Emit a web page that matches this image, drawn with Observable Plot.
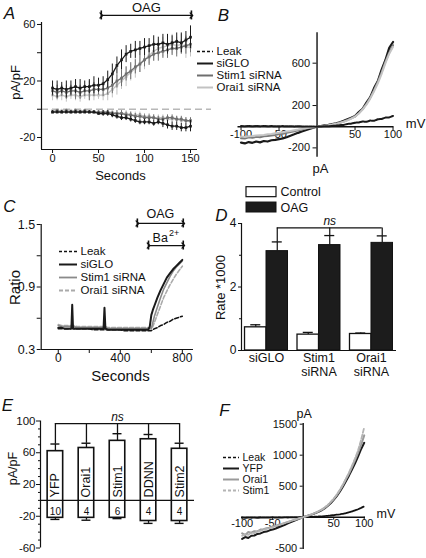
<!DOCTYPE html>
<html>
<head>
<meta charset="utf-8">
<script src="https://cdn.jsdelivr.net/npm/d3@7"></script>
<script src="https://cdn.jsdelivr.net/npm/@observablehq/plot@0.6"></script>
<style>
  html, body { margin: 0; padding: 0; background: #fff; }
  #fig { position: relative; width: 426px; height: 558px; overflow: hidden; background: #fff; }
  #fig svg { position: absolute; left: 0; top: 0; background: transparent !important; overflow: visible !important; max-width: none !important; }
</style>
</head>
<body>
<div id="fig"></div>
<script>
// ================= DATA =================
// Panel A: current density at +/-100 mV vs time (s)
const secA = [0,5,10,15,20,25,30,35,40,45,50,55,60,65,70,75,80,85,90,95,100,105,110,115,120,125,130,135,140,145,150];
const aSiGLOOut    = [15,14,15,14,15,16,15,16,16,17,17,18,21,25,31,35,39,41,42,43,44,45,46,46,47,46,47,48,47,49,51];
const aSiGLOOutErr = [5,6,4,6,5,5,6,4,5,6,5,5,6,7,6,7,6,5,6,5,6,5,6,5,6,7,5,6,7,6,8];
const aStimOut     = [13,12,13,12,13,13,12,13,13,14,14,14,15,17,20,22,25,27,30,32,35,37,39,40,41,42,43,43,44,45,46];
const aStimOutErr  = [4,5,4,5,4,6,5,4,7,5,4,5,5,6,5,6,5,6,5,6,5,6,5,6,5,6,5,6,5,6,6];
const aOraiOut     = [10,9,10,9,10,10,9,10,10,10,10,10,11,14,17,20,23,26,29,32,35,38,41,43,44,45,46,45,46,44,44];
const aOraiOutErr  = [4,3,4,4,3,4,4,3,4,4,3,4,5,6,7,6,7,6,7,6,7,6,7,6,7,6,7,6,7,8,7];
const aSiGLOIn     = [-2,-2,-2,-2,-2,-2,-2,-2,-2,-2,-3,-3,-3,-4,-5,-6,-6,-7,-8,-9,-9,-9,-10,-9,-10,-11,-12,-12,-13,-13,-12];
const aSiGLOInErr  = [1,1,1,1,1,1,1,1,1,1,1,2,2,2,2,2,2,2,2,2,2,2,2,2,3,3,3,3,3,3,4];
const aStimIn      = [-2,-1,-2,-1,-2,-1,-2,-1,-2,-2,-2,-2,-2,-3,-3,-3,-4,-4,-5,-5,-6,-6,-6,-7,-7,-6,-6,-7,-7,-8,-8];
const aOraiIn      = [-1,-2,-1,-2,-1,-2,-1,-2,-1,-2,-2,-2,-2,-2,-3,-3,-3,-4,-4,-4,-5,-5,-6,-6,-6,-7,-7,-7,-8,-8,-9];
const aInErr       = [1,1,1,1,1,1,1,1,1,1,1,1,1,1,2,2,2,2,2,2,2,2,2,2,2,2,2,2,2,2,2];
const oagA = [53, 151];
const legendA = ["Leak", "siGLO", "Stim1 siRNA", "Orai1 siRNA"];

// Panels B and F: I-V curves (mV)
const mV = [-100,-95,-90,-85,-80,-75,-70,-65,-60,-55,-50,-45,-40,-35,-30,-25,-20,-15,-10,-5,0,5,10,15,20,25,30,35,40,45,50,55,60,65,70,75,80,85,90,95,100];
const bLeak  = [6,5,7,4,6,5,7,5,6,4,5,6,4,5,3,4,3,2,2,1,0,2,4,4,8,9,15,17,26,29,38,40,49,46,58,56,70,73,86,88,102];
const bSiGLO = [-150,-158,-145,-152,-140,-148,-135,-140,-128,-125,-118,-110,-100,-85,-72,-58,-45,-33,-22,-10,0,6,12,18,25,32,42,55,70,85,100,138,170,228,280,365,432,540,630,745,800];
const bStim  = [-108,-112,-100,-104,-96,-99,-90,-88,-82,-78,-70,-66,-58,-50,-42,-34,-26,-18,-11,-5,0,5,10,15,21,28,37,49,63,80,98,128,168,215,275,345,425,515,615,700,770];
const bOrai  = [-92,-98,-90,-88,-84,-80,-78,-72,-68,-62,-58,-52,-46,-40,-33,-27,-20,-14,-8,-4,0,5,9,14,20,27,36,47,60,76,95,124,162,208,265,335,410,500,600,690,755];

const fLeak  = [-8,-10,-6,-9,-7,-10,-5,-8,-6,-9,-4,-7,-5,-6,-3,-5,-2,-4,-2,-1,0,3,5,6,9,11,14,18,22,27,33,40,46,55,64,78,92,110,128,150,175];
const fYFP   = [-350,-320,-335,-300,-295,-270,-262,-240,-232,-212,-200,-182,-162,-142,-122,-100,-80,-60,-40,-20,0,15,30,45,65,85,110,140,180,225,280,340,410,490,580,670,770,870,980,1100,1200];
const fOrai  = [-260,-290,-240,-250,-225,-230,-200,-195,-178,-170,-150,-140,-122,-108,-92,-76,-60,-44,-28,-14,0,16,32,50,70,92,118,150,190,238,290,355,430,515,610,700,810,920,1040,1170,1320];
const fStim  = [-300,-270,-285,-250,-255,-225,-220,-200,-190,-172,-162,-145,-130,-112,-96,-80,-62,-46,-30,-15,0,17,33,52,72,96,122,155,195,245,300,365,440,525,620,720,830,950,1080,1250,1450];
const legendF = ["Leak", "YFP", "Orai1", "Stim1"];

// Panel C: fura-2 ratio vs time (s)
const secC = [0,20,40,60,80, 85,90,95,100, 120,140,160,180,200, 220,240,260,280, 292,298,304, 320,340,360,380,400, 420,440,460,480,500, 520,540,560,580, 590,600,610,620, 640,660,680,700, 720,740,760,780,800];
const cSiGLO = [0.51,0.51,0.50,0.50,0.50, 0.51,0.73,0.51,0.50, 0.50,0.50,0.50,0.50,0.50, 0.50,0.50,0.50,0.50, 0.50,0.70,0.50, 0.49,0.49,0.49,0.49,0.49, 0.49,0.49,0.49,0.49,0.49, 0.49,0.49,0.49,0.49, 0.52,0.63,0.68,0.72, 0.80,0.87,0.93,0.99, 1.03,1.07,1.10,1.13,1.16];
const cStim  = [0.53,0.52,0.52,0.52,0.52, 0.52,0.52,0.52,0.52, 0.51,0.51,0.51,0.51,0.51, 0.51,0.51,0.51,0.51, 0.51,0.51,0.51, 0.50,0.50,0.50,0.50,0.50, 0.50,0.50,0.50,0.50,0.50, 0.50,0.50,0.50,0.50, 0.50,0.50,0.56,0.62, 0.71,0.80,0.88,0.94, 1.00,1.05,1.09,1.12,1.15];
const cOrai  = [0.54,0.53,0.53,0.53,0.53, 0.53,0.53,0.53,0.53, 0.52,0.52,0.52,0.52,0.52, 0.52,0.52,0.52,0.52, 0.52,0.52,0.52, 0.51,0.51,0.51,0.51,0.51, 0.51,0.51,0.51,0.51,0.51, 0.51,0.51,0.51,0.51, 0.51,0.50,0.52,0.56, 0.64,0.72,0.80,0.86, 0.92,0.97,1.02,1.06,1.10];
const cLeak  = [0.50,0.50,0.50,0.50,0.50, 0.50,0.50,0.50,0.50, 0.50,0.50,0.50,0.50,0.50, 0.49,0.49,0.49,0.49, 0.49,0.49,0.49, 0.49,0.49,0.49,0.49,0.49, 0.48,0.48,0.48,0.48,0.48, 0.48,0.48,0.48,0.48, 0.48,0.48,0.49,0.50, 0.51,0.53,0.54,0.56, 0.57,0.59,0.60,0.61,0.62];
const oagC = [510, 806];
const baC = [582, 806];
const legendC = ["Leak", "siGLO", "Stim1 siRNA", "Orai1 siRNA"];

// Panel D: Ba2+ entry rate
const dGroups = ["siGLO", "Stim1", "Orai1"];
const dLabels = ["siGLO", "Stim1\nsiRNA", "Orai1\nsiRNA"];
const dControl = [0.73, 0.50, 0.52];
const dControlErr = [0.08, 0.07, 0.03];
const dOAG = [3.13, 3.32, 3.39];
const dOAGErr = [0.29, 0.30, 0.22];
const legendD = ["Control", "OAG"];

// Panel E: current densities
const eNames = ["YFP", "Orai1", "Stim1", "DDNN", "Stim2"];
const eCounts = ["10", "4", "6", "4", "4"];
const ePos = [62, 66, 75, 77, 65];
const ePosErr = [9, 6, 9, 6, 7];
const eNeg = [-22, -22, -22, -26, -26];
const eNegErr = [2, 3, 1, 3, 3];

// ================= DRAWING =================
const W = 426, H = 558;
const FONT = '"Liberation Sans", Arial, Helvetica, sans-serif';
const INK = "#111";
const fig = document.getElementById("fig");
const fmt = d => String(d);

function addPlot(o, marks, fontSize = 11) {
  const svg = Plot.plot({
    width: W, height: H,
    marginLeft: o.x0, marginRight: W - o.x1, marginTop: o.y0, marginBottom: H - o.y1,
    x: Object.assign({axis: null}, o.x),
    y: Object.assign({axis: null}, o.y),
    style: {fontFamily: FONT, fontSize: fontSize + "px", color: INK, background: "transparent", overflow: "visible"},
    marks
  });
  fig.appendChild(svg);
  return svg;
}
function note(o, str, px, py, opts = {}) {
  return Plot.text([str], Object.assign({text: d => d, frameAnchor: "top-left", dx: px - o.x0, dy: py - o.y0,
    textAnchor: "middle", lineAnchor: "middle", fill: INK}, opts));
}
function leftAxis(o, ticks, labels, {len = 4, pad = 2, minor = [], fontSize} = {}) {
  return [
    Plot.ruleY(minor, {y: d => d, insetLeft: -2, insetRight: o.x1 - o.x0, stroke: INK}),
    Plot.ruleY(ticks, {y: d => d, insetLeft: -len, insetRight: o.x1 - o.x0, stroke: INK}),
    Plot.text(labels, {y: d => d, text: fmt, frameAnchor: "left", dx: -(len + pad), textAnchor: "end", lineAnchor: "middle", fontSize, fill: INK})
  ];
}
function bottomAxis(o, ticks, labels, {len = 4, pad = 1, fontSize} = {}) {
  return [
    Plot.ruleX(ticks, {x: d => d, insetTop: o.y1 - o.y0, insetBottom: -len, stroke: INK}),
    Plot.text(labels, {x: d => d, text: fmt, frameAnchor: "bottom", dy: len + pad, lineAnchor: "top", textAnchor: "middle", fontSize, fill: INK})
  ];
}
function spanArrow(range, yv, sw = 1.3) {
  return [
    Plot.link([range], {x1: d => d[0], x2: d => d[1], y1: () => yv, y2: () => yv, stroke: INK, strokeWidth: sw, markerStart: "arrow", markerEnd: "arrow"}),
    Plot.ruleX(range, {x: d => d, y1: () => yv, y2: () => yv, insetTop: -4.5, insetBottom: -4.5, stroke: INK, strokeWidth: 1.6})
  ];
}
function bandGeom(o, n) {
  const pi = o.x.paddingInner, po = o.x.paddingOuter;
  const step = (o.x1 - o.x0) / (n - pi + 2 * po);
  const bw = step * (1 - pi);
  const start = o.x0 + step * po;
  return {step, bw, start, center: i => start + i * step + bw / 2};
}
function lineLegend(labels, styles, box, fontSize) {
  const o = Object.assign({x: {domain: [0, 1]}, y: {type: "point", domain: labels, padding: 0}}, box);
  addPlot(o, [
    ...labels.map((lab, i) => Plot.ruleY([lab], {y: d => d, x1: () => 0, x2: () => 1, stroke: styles[i].color, strokeWidth: styles[i].width, strokeDasharray: styles[i].dash})),
    Plot.text(labels, {y: d => d, x: () => 1, dx: 3, text: d => d, textAnchor: "start", lineAnchor: "middle", fill: INK})
  ], fontSize);
}
const rowsOf = (xs, ys, es) => xs.map((x, i) => ({x, y: ys[i], e: es ? es[i] : 0}));
function tracePoints(rows, color, lw) {
  return [
    Plot.ruleX(rows, {x: "x", y1: d => d.y - d.e, y2: d => d.y + d.e, stroke: color, strokeWidth: 1}),
    Plot.line(rows, {x: "x", y: "y", stroke: color, strokeWidth: lw}),
    Plot.dot(rows, {x: "x", y: "y", symbol: "square", r: 1.5, fill: color, stroke: "none"})
  ];
}

// ---------- Panel A ----------
const A = {x0: 41, x1: 197, y0: 22, y1: 149, x: {domain: [-12, 157.6]}, y: {domain: [-28.5, 61.4]}};
const cA = {siGLO: "#1a1a1a", stim: "#6e6e6e", orai: "#c2c2c2"};
const oagYA = 66.4;
addPlot(A, [
  Plot.ruleY([0], {stroke: "#b8b8b8", strokeWidth: 1.6, strokeDasharray: "7,4", insetRight: -14}),
  ...tracePoints(rowsOf(secA, aOraiIn, aInErr), cA.orai, 1.3),
  ...tracePoints(rowsOf(secA, aStimIn, aInErr), cA.stim, 1.3),
  ...tracePoints(rowsOf(secA, aSiGLOIn, aSiGLOInErr), cA.siGLO, 1.3),
  ...tracePoints(rowsOf(secA, aOraiOut, aOraiOutErr), cA.orai, 1.3),
  ...tracePoints(rowsOf(secA, aStimOut, aStimOutErr), cA.stim, 1.3),
  ...tracePoints(rowsOf(secA, aSiGLOOut, aSiGLOOutErr), cA.siGLO, 1.3),
  Plot.ruleX([A.x.domain[0]], {stroke: INK, strokeWidth: 1.2}),
  Plot.ruleY([A.y.domain[0]], {stroke: INK, strokeWidth: 1.2}),
  ...leftAxis(A, [-20, 0, 20, 40, 60], [-20, 20, 60], {len: 4, pad: 2}),
  ...bottomAxis(A, [0, 50, 100, 150], [0, 50, 100, 150], {len: 4, pad: 1}),
  ...spanArrow(oagA, oagYA),
  Plot.text(["OAG"], {x: () => (oagA[0] + oagA[1]) / 2, y: () => oagYA, dy: -8, text: d => d, fontSize: 13, fill: INK}),
  note(A, "pA/pF", 15, 82, {rotate: -90, fontSize: 13}),
  note(A, "Seconds", 120, 175, {fontSize: 13}),
  note(A, "A", 9, 13, {fontSize: 17, fontStyle: "italic"})
], 11);
lineLegend(legendA, [
  {color: INK, width: 1.6, dash: "3,2"},
  {color: cA.siGLO, width: 2},
  {color: cA.stim, width: 2},
  {color: cA.orai, width: 2}
], {x0: 197, x1: 213, y0: 50.5, y1: 88}, 11.5);

// ---------- Panel B ----------
const B = {x0: 237.5, x1: 393.3, y0: 32.3, y1: 156.7, x: {domain: [-104, 101]}, y: {domain: [-288, 887]}};
const ivRows = ys => mV.map((v, i) => ({x: v, y: ys[i]}));
addPlot(B, [
  Plot.text([-200, 200, 600], {x: () => 0, y: d => d, text: fmt, dx: -7, textAnchor: "end", lineAnchor: "middle", fill: INK}),
  Plot.text([-100, -50, 50, 100], {x: d => d, y: () => 0, text: fmt, dy: 3, lineAnchor: "top", textAnchor: "middle", fill: INK}),
  Plot.ruleX([0], {stroke: INK, strokeWidth: 1.4}),
  Plot.ruleY([0], {stroke: INK, strokeWidth: 1.4}),
  Plot.ruleY([-200, 200, 600], {y: d => d, x1: () => 0, x2: () => 0, insetLeft: -4, stroke: INK}),
  Plot.ruleX([-100, -50, 50, 100], {x: d => d, y1: () => 0, y2: () => 0, insetBottom: -4, stroke: INK}),
  Plot.line(ivRows(bSiGLO), {x: "x", y: "y", stroke: "#1a1a1a", strokeWidth: 2.2}),
  Plot.line(ivRows(bStim), {x: "x", y: "y", stroke: "#7a7a7a", strokeWidth: 2}),
  Plot.line(ivRows(bOrai), {x: "x", y: "y", stroke: "#c4c4c4", strokeWidth: 2}),
  Plot.line(ivRows(bLeak), {x: "x", y: "y", stroke: "#1a1a1a", strokeWidth: 2, strokeDasharray: "3,1"}),
  Plot.text(["mV"], {y: () => 0, frameAnchor: "right", dx: 12, dy: -3, text: d => d, textAnchor: "start", lineAnchor: "middle", fontSize: 13, fill: INK}),
  Plot.text(["pA"], {x: () => 0, frameAnchor: "bottom", dy: 12, dx: 3.5, text: d => d, textAnchor: "middle", lineAnchor: "middle", fontSize: 13, fill: INK}),
  note(B, "B", 223, 15, {fontSize: 17, fontStyle: "italic"})
], 11);

// ---------- Panel C ----------
const C = {x0: 40.7, x1: 193, y0: 224, y1: 349, x: {domain: [-110, 872]}, y: {domain: [0.3, 1.5]}};
const cRows = ys => secC.map((t, i) => ({x: t, y: ys[i]}));
addPlot(C, [
  Plot.line(cRows(cLeak), {x: "x", y: "y", stroke: INK, strokeWidth: 1.5, strokeDasharray: "4,2"}),
  Plot.line(cRows(cOrai), {x: "x", y: "y", stroke: "#aaaaaa", strokeWidth: 1.6, strokeDasharray: "4,2"}),
  Plot.line(cRows(cStim), {x: "x", y: "y", stroke: "#8a8a8a", strokeWidth: 1.6}),
  Plot.line(cRows(cSiGLO), {x: "x", y: "y", stroke: "#1a1a1a", strokeWidth: 2}),
  Plot.ruleX([C.x.domain[0]], {stroke: INK, strokeWidth: 1.2}),
  Plot.ruleY([C.y.domain[0]], {stroke: INK, strokeWidth: 1.2}),
  ...leftAxis(C, [0.3, 0.6, 0.9, 1.2, 1.5], [0.3, 0.9, 1.5], {len: 4, pad: 2, fontSize: 12.5}),
  ...bottomAxis(C, [0, 200, 400, 600, 800], [0, 400, 800], {len: 4, pad: 0, fontSize: 12}),
  ...spanArrow(oagC, 1.51),
  ...spanArrow(baC, 1.298),
  Plot.text(["OAG"], {x: () => (oagC[0] + oagC[1]) / 2, y: () => 1.51, dy: -9, text: d => d, fontSize: 12.5, fill: INK}),
  Plot.text(["Ba"], {x: () => (baC[0] + baC[1]) / 2, y: () => 1.298, dx: 2, dy: -8, text: d => d, textAnchor: "end", fontSize: 12.5, fill: INK}),
  Plot.text(["2+"], {x: () => (baC[0] + baC[1]) / 2, y: () => 1.298, dx: 3, dy: -12, text: d => d, textAnchor: "start", fontSize: 9, fill: INK}),
  note(C, "Ratio", 15, 287, {rotate: -90, fontSize: 15}),
  note(C, "Seconds", 120, 375.5, {fontSize: 15}),
  note(C, "C", 9, 206, {fontSize: 17, fontStyle: "italic"})
], 12);
lineLegend(legendC, [
  {color: INK, width: 1.6, dash: "3,2"},
  {color: "#1a1a1a", width: 2},
  {color: "#8a8a8a", width: 1.8},
  {color: "#aaaaaa", width: 1.8, dash: "4,2"}
], {x0: 59, x1: 77, y0: 251, y1: 290}, 11.5);

// ---------- Panel D ----------
const D = {x0: 241, x1: 396, y0: 223, y1: 350,
  x: {type: "band", domain: dGroups, paddingInner: 0.181, paddingOuter: 0.067, align: 0.5, round: false},
  y: {domain: [0, 4]}};
const gD = bandGeom(D, dGroups.length);
const rowsD = dGroups.map((g, i) => ({g, c: dControl[i], ce: dControlErr[i], o: dOAG[i], oe: dOAGErr[i]}));
const nsYD = 3.86;
const capD = 10;
addPlot(D, [
  Plot.ruleX(rowsD, {x: "g", y1: "c", y2: d => d.c + d.ce, dx: -gD.bw / 4, stroke: INK, strokeWidth: 1.2}),
  Plot.tickY(rowsD, {x: "g", y: d => d.c + d.ce, dx: -gD.bw / 4, insetLeft: (gD.bw - capD) / 2, insetRight: (gD.bw - capD) / 2, stroke: INK, strokeWidth: 1.3}),
  Plot.ruleX(rowsD, {x: "g", y1: "o", y2: d => d.o + d.oe, dx: gD.bw / 4, stroke: INK, strokeWidth: 1.2}),
  Plot.tickY(rowsD, {x: "g", y: d => d.o + d.oe, dx: gD.bw / 4, insetLeft: (gD.bw - capD) / 2, insetRight: (gD.bw - capD) / 2, stroke: INK, strokeWidth: 1.3}),
  Plot.barY(rowsD, {x: "g", y: "c", insetRight: gD.bw / 2, fill: "white", stroke: INK, strokeWidth: 1.3}),
  Plot.barY(rowsD, {x: "g", y: "o", insetLeft: gD.bw / 2, fill: "#1c1c1c", stroke: INK, strokeWidth: 1}),
  // ns bracket
  Plot.ruleX(rowsD, {x: "g", y1: d => d.o + d.oe, y2: () => nsYD, dx: gD.bw / 4, stroke: INK, strokeWidth: 1.2}),
  Plot.ruleY([nsYD], {y: d => d, insetLeft: gD.center(0) + gD.bw / 4 - D.x0, insetRight: D.x1 - (gD.center(2) + gD.bw / 4), stroke: INK, strokeWidth: 1.2}),
  Plot.text(["ns"], {x: () => dGroups[1], y: () => nsYD, dx: gD.bw / 4, dy: -7, text: d => d, fontStyle: "italic", fontSize: 12, fill: INK}),
  // axes
  Plot.ruleX([dGroups[0]], {x: d => d, dx: -(gD.start - D.x0 + gD.bw / 2), stroke: INK, strokeWidth: 1.2}),
  Plot.ruleY([0], {stroke: INK, strokeWidth: 1.2}),
  ...leftAxis(D, [0, 2, 4], [0, 2, 4], {len: 3, pad: 2, minor: [1, 3], fontSize: 12}),
  Plot.text(dGroups, {x: d => d, text: (d, i) => dLabels[i], frameAnchor: "bottom", dy: 1, lineAnchor: "top", textAnchor: "middle", lineHeight: 1.15, fontSize: 12.5, fill: INK}),
  note(D, "Rate *1000", 220, 287, {rotate: -90, fontSize: 13}),
  note(D, "D", 221, 215, {fontSize: 17, fontStyle: "italic"})
], 12);
// legend D (boxes)
const LD = {x0: 246, x1: 276, y0: 186.7, y1: 212,
  x: {domain: [0, 1]}, y: {type: "band", domain: legendD, paddingInner: 0.35, paddingOuter: 0, round: false}};
addPlot(LD, [
  Plot.barX([legendD[0]], {y: d => d, x1: () => 0, x2: () => 1, fill: "white", stroke: INK, strokeWidth: 1.2}),
  Plot.barX([legendD[1]], {y: d => d, x1: () => 0, x2: () => 1, fill: "#1c1c1c", stroke: INK, strokeWidth: 1}),
  Plot.text(legendD, {y: d => d, x: () => 1, dx: 4, text: d => d, textAnchor: "start", lineAnchor: "middle", fill: INK})
], 12.5);

// ---------- Panel E ----------
const E = {x0: 40, x1: 194, y0: 420.5, y1: 547.5,
  x: {type: "band", domain: eNames, paddingInner: 0.5, paddingOuter: 0.23, align: 0.5, round: false},
  y: {domain: [-60, 100]}};
const gE = bandGeom(E, eNames.length);
const rowsE = eNames.map((n, i) => ({n, k: eCounts[i], pos: ePos[i], pe: ePosErr[i], neg: eNeg[i], ne: eNegErr[i]}));
const nsYE = 96.8;
const capE = 9;
addPlot(E, [
  Plot.ruleX(rowsE, {x: "n", y1: "pos", y2: d => d.pos + d.pe, stroke: INK, strokeWidth: 1.3}),
  Plot.tickY(rowsE, {x: "n", y: d => d.pos + d.pe, insetLeft: (gE.bw - capE) / 2, insetRight: (gE.bw - capE) / 2, stroke: INK, strokeWidth: 1.4}),
  Plot.ruleX(rowsE, {x: "n", y1: "neg", y2: d => d.neg - d.ne, stroke: INK, strokeWidth: 1.3}),
  Plot.tickY(rowsE, {x: "n", y: d => d.neg - d.ne, insetLeft: (gE.bw - capE) / 2, insetRight: (gE.bw - capE) / 2, stroke: INK, strokeWidth: 1.4}),
  Plot.barY(rowsE, {x: "n", y1: "neg", y2: "pos", fill: "white", stroke: INK, strokeWidth: 1.6}),
  Plot.ruleY([0], {stroke: INK, strokeWidth: 1.2}),
  Plot.text(rowsE, {x: "n", y: () => 0, text: "n", rotate: -90, textAnchor: "start", lineAnchor: "middle", dy: -3, fontSize: 12.5, fill: INK}),
  Plot.text(rowsE, {x: "n", y: () => 0, text: "k", dy: 11, lineAnchor: "middle", fontSize: 10, fill: INK}),
  // ns bracket
  Plot.ruleX(rowsE, {x: "n", y1: d => d.pos + d.pe, y2: () => nsYE, stroke: INK, strokeWidth: 1.3}),
  Plot.ruleY([nsYE], {y: d => d, insetLeft: gE.center(0) - E.x0, insetRight: E.x1 - gE.center(4), stroke: INK, strokeWidth: 1.3}),
  Plot.text(["ns"], {x: () => eNames[2], y: () => nsYE, dy: -6, text: d => d, fontStyle: "italic", fontSize: 12, fill: INK}),
  // axes
  Plot.ruleX([eNames[0]], {x: d => d, dx: -(gE.start - E.x0 + gE.bw / 2), stroke: INK, strokeWidth: 1.2}),
  ...leftAxis(E, [-60, -20, 20, 60, 100], [-60, -20, 20, 60, 100], {len: 4, pad: 1, minor: [-50, -40, -30, -10, 0, 10, 30, 40, 50, 70, 80, 90], fontSize: 11.5}),
  note(E, "pA/pF", 12, 468, {rotate: -90, fontSize: 12.5}),
  note(E, "E", 7, 405, {fontSize: 17, fontStyle: "italic"})
], 12);

// ---------- Panel F ----------
const F = {x0: 241, x1: 365, y0: 423, y1: 549, x: {domain: [-101.1, 102.1]}, y: {domain: [-521, 1511]}};
const fRows = ys => mV.map((v, i) => ({x: v, y: ys[i]}));
addPlot(F, [
  Plot.text([-500, 500, 1000, 1500], {x: () => 0, y: d => d, text: fmt, dx: -6, textAnchor: "end", lineAnchor: "middle", fill: INK}),
  Plot.text([-100, -50, 50, 100], {x: d => d, y: () => 0, text: fmt, dy: 2, lineAnchor: "top", textAnchor: "middle", fill: INK}),
  Plot.ruleX([0], {stroke: INK, strokeWidth: 1.4}),
  Plot.ruleY([0], {stroke: INK, strokeWidth: 1.4}),
  Plot.ruleY([-500, 500, 1000, 1500], {y: d => d, x1: () => 0, x2: () => 0, insetLeft: -3, stroke: INK}),
  Plot.ruleX([-100, -50, 50, 100], {x: d => d, y1: () => 0, y2: () => 0, insetBottom: -3, stroke: INK}),
  Plot.line(fRows(fLeak), {x: "x", y: "y", stroke: INK, strokeWidth: 1.8, strokeDasharray: "3,1"}),
  Plot.line(fRows(fYFP), {x: "x", y: "y", stroke: "#1a1a1a", strokeWidth: 2}),
  Plot.line(fRows(fOrai), {x: "x", y: "y", stroke: "#9a9a9a", strokeWidth: 2}),
  Plot.line(fRows(fStim), {x: "x", y: "y", stroke: "#b4b4b4", strokeWidth: 1.8, strokeDasharray: "4,2"}),
  Plot.text(["mV"], {y: () => 0, frameAnchor: "right", dx: 11, dy: -3, text: d => d, textAnchor: "start", lineAnchor: "middle", fontSize: 12.5, fill: INK}),
  Plot.text(["pA"], {x: () => 0, frameAnchor: "top", dy: -10, dx: 1, text: d => d, textAnchor: "middle", lineAnchor: "middle", fontSize: 12.5, fill: INK}),
  note(F, "F", 224, 410, {fontSize: 17, fontStyle: "italic"})
], 11);
lineLegend(legendF, [
  {color: INK, width: 1.6, dash: "3,2"},
  {color: "#1a1a1a", width: 2},
  {color: "#9a9a9a", width: 2},
  {color: "#b4b4b4", width: 1.8, dash: "3,2"}
], {x0: 223, x1: 239, y0: 456, y1: 491}, 10.5);
</script>
</body>
</html>
